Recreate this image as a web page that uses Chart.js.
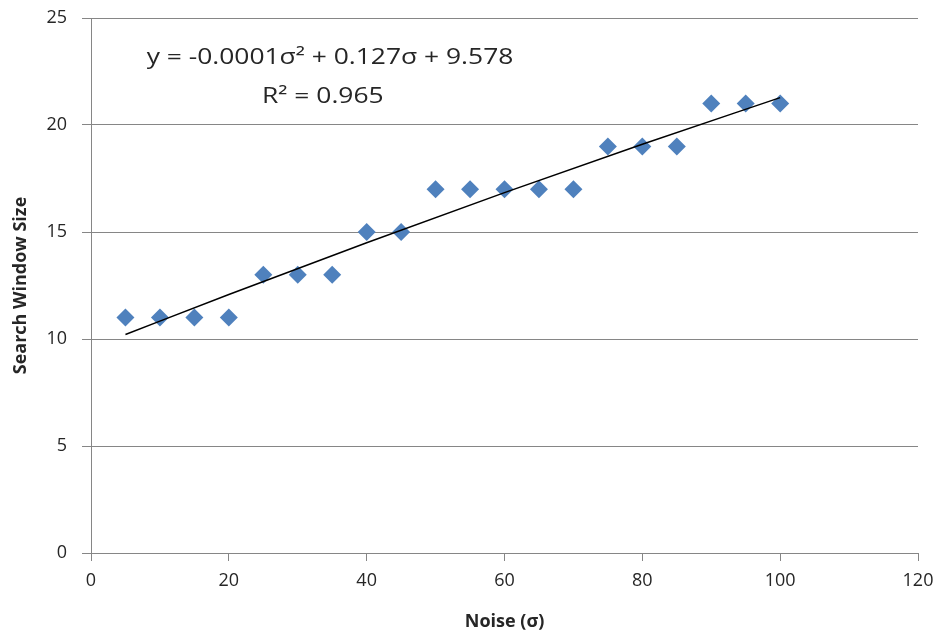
<!DOCTYPE html>
<html>
<head>
<meta charset="utf-8">
<script src="https://cdn.jsdelivr.net/npm/chart.js@4.4.1/dist/chart.umd.min.js"></script>
<style>
  html, body { margin: 0; padding: 0; background: #fff; }
  #wrap { width: 946px; height: 641px; position: relative; }
</style>
</head>
<body>
<div id="wrap"><canvas id="grafica"></canvas></div>
<script>
// datos
const ruido = [5, 10, 15, 20, 25, 30, 35, 40, 45, 50, 55, 60, 65, 70, 75, 80, 85, 90, 95, 100];
const ventana = [11, 11, 11, 11, 13, 13, 13, 15, 15, 17, 17, 17, 17, 17, 19, 19, 19, 21, 21, 21];

// linea de tendencia (polinomica, valores leidos)
const tendenciaX = [5, 20, 40, 60, 80, 100];
const tendenciaY = [10.21, 12.08, 14.50, 16.84, 19.10, 21.28];

const ticksX = [0, 20, 40, 60, 80, 100, 120];
const ticksY = [0, 5, 10, 15, 20, 25];

const ecuacion = "y = -0.0001σ² + 0.127σ + 9.578";
const r2 = "R² = 0.965";

const puntos = ruido.map((x, i) => ({ x: x, y: ventana[i] }));
const tendencia = tendenciaX.map((x, i) => ({ x: x, y: tendenciaY[i] }));

const gris = "#868686";
const texto = "#262626";

// plugin para escribir la ecuacion (un poco estirada como en el original)
const textoEcuacion = {
  id: "textoEcuacion",
  afterDraw(chart) {
    const ctx = chart.ctx;
    ctx.save();
    ctx.fillStyle = texto;
    ctx.font = "22px 'Open Sans'";
    ctx.textAlign = "center";
    ctx.textBaseline = "middle";
    ctx.translate(330, 0);
    ctx.scale(1.2, 1);
    ctx.fillText(ecuacion, 0, 58);
    ctx.fillText(r2, -6, 97);
    ctx.restore();
  }
};

new Chart(document.getElementById("grafica"), {
  type: "scatter",
  data: {
    datasets: [
      {
        label: "Search Window Size",
        data: puntos,
        pointStyle: "rectRot",
        pointRadius: 9,
        backgroundColor: "#4f81bd",
        borderColor: "#4f81bd",
        borderWidth: 0,
        order: 2
      },
      {
        label: "tendencia",
        type: "line",
        data: tendencia,
        borderColor: "#000",
        borderWidth: 1.5,
        pointRadius: 0,
        cubicInterpolationMode: "monotone",
        fill: false,
        order: 1
      }
    ]
  },
  options: {
    responsive: true,
    maintainAspectRatio: false,
    animation: false,
    layout: { padding: { top: 18, right: 28, bottom: 0, left: 0 } },
    plugins: {
      legend: { display: false },
      tooltip: { enabled: false }
    },
    scales: {
      x: {
        type: "linear",
        min: 0,
        max: 120,
        afterBuildTicks: (scale) => { scale.ticks = ticksX.map(v => ({ value: v })); },
        afterFit: (scale) => {
          scale.height = 88;
          scale.paddingLeft = 0;
          scale.paddingRight = 0;
        },
        grid: { drawOnChartArea: false, drawTicks: true, tickLength: 8, color: gris },
        border: { color: gris, width: 1 },
        ticks: { color: texto, font: { family: "'Open Sans'", size: 18 }, padding: 9 },
        title: {
          display: true,
          text: "Noise (σ)",
          color: texto,
          font: { family: "'Open Sans'", size: 18, weight: "bold" },
          padding: { top: 0, bottom: 8 }
        }
      },
      y: {
        type: "linear",
        min: 0,
        max: 25,
        afterBuildTicks: (scale) => { scale.ticks = ticksY.map(v => ({ value: v })); },
        afterFit: (scale) => {
          scale.width = 91;
          scale.paddingTop = 0;
          scale.paddingBottom = 0;
        },
        grid: { drawOnChartArea: true, drawTicks: true, tickLength: 9, color: gris },
        border: { color: gris, width: 1 },
        ticks: { color: texto, font: { family: "'Open Sans'", size: 18 }, padding: 15 },
        title: {
          display: true,
          text: "Search Window Size",
          color: texto,
          font: { family: "'Open Sans'", size: 18, weight: "bold" },
          padding: { top: 10, bottom: 0 }
        }
      }
    }
  },
  plugins: [textoEcuacion]
});
</script>
</body>
</html>
